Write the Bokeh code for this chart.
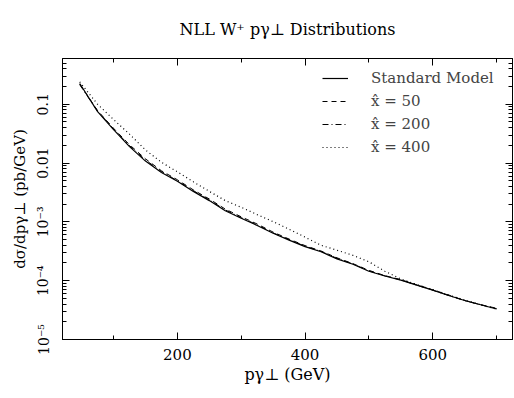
from bokeh.plotting import figure
from bokeh.models import (Range1d, LinearAxis, LogAxis, FixedTicker, LogTicker,
                          Legend, LegendItem, CustomJSTickFormatter)
from bokeh.embed import file_html
from bokeh.resources import INLINE

# ---------------- data ----------------
pt = [47, 75, 100, 125, 150, 175, 200, 225, 250, 275, 300, 325, 350, 375, 400,
      425, 450, 475, 500, 525, 550, 575, 600, 625, 650, 675, 700]

sm = [0.225, 0.075, 0.037, 0.019, 0.0108, 0.0069, 0.0049, 0.0033, 0.0023, 0.00155,
      0.00115, 8.7e-4, 6.4e-4, 4.9e-4, 3.8e-4, 3.1e-4, 2.35e-4, 1.9e-4, 1.45e-4,
      1.2e-4, 1.02e-4, 8.4e-5, 6.9e-5, 5.6e-5, 4.6e-5, 3.9e-5, 3.3e-5]

xh50 = [0.22, 0.078, 0.039, 0.0205, 0.0118, 0.0074, 0.0052, 0.0035, 0.00245, 0.00165,
        0.00122, 9.2e-4, 6.7e-4, 5.1e-4, 3.95e-4, 3.2e-4, 2.45e-4, 1.95e-4, 1.5e-4,
        1.22e-4, 1.04e-4, 8.5e-5, 7.0e-5, 5.7e-5, 4.6e-5, 3.9e-5, 3.4e-5]

xh200 = [0.215, 0.076, 0.038, 0.0198, 0.0113, 0.0072, 0.0050, 0.0034, 0.00236, 0.0016,
         0.00118, 8.9e-4, 6.5e-4, 5.0e-4, 3.85e-4, 3.15e-4, 2.4e-4, 1.93e-4, 1.47e-4,
         1.21e-4, 1.03e-4, 8.4e-5, 6.9e-5, 5.6e-5, 4.6e-5, 3.9e-5, 3.35e-5]

xh400 = [0.24, 0.1, 0.055, 0.031, 0.0167, 0.0103, 0.0071, 0.0048, 0.0033, 0.0023,
         0.00177, 0.00133, 0.00101, 7.5e-4, 5.5e-4, 4.0e-4, 3.3e-4, 2.7e-4, 2.1e-4,
         1.45e-4, 1.07e-4, 8.6e-5, 7.0e-5, 5.7e-5, 4.7e-5, 3.9e-5, 3.3e-5]

series_labels = ["Standard Model", "x\u0302 = 50", "x\u0302 = 200", "x\u0302 = 400"]

title_text = "NLL W\u207a p\u03b3\u22a5 Distributions"
x_label = "p\u03b3\u22a5 (GeV)"
y_label = "d\u03c3/dp\u03b3\u22a5 (pb/GeV)"

x_major_ticks = [200, 400, 600]
x_minor_ticks = [100, 300, 500, 700]
y_tick_values = [1e-5, 1e-4, 1e-3, 1e-2, 1e-1]
y_tick_labels = ["10\u207b\u2075", "10\u207b\u2074", "10\u207b\u00b3", "0.01", "0.1"]

FONT = "DejaVu Serif"

# ---------------- figure ----------------
p = figure(width=514, height=398, x_range=Range1d(20, 725), y_range=Range1d(1e-5, 0.6),
           y_axis_type="log", output_backend="svg", toolbar_location=None,
           min_border_left=62, min_border_right=2, min_border_top=58, min_border_bottom=59,
           background_fill_color="white", border_fill_color="white")
p.grid.visible = False
p.outline_line_color = "black"
p.outline_line_width = 1

p.title.text = title_text
p.title.align = "center"
p.title.vertical_align = "top"
p.title.text_font = FONT
p.title.text_font_size = "16px"
p.title.text_font_style = "normal"
p.title.text_color = "black"
p.title.standoff = 35

blank = CustomJSTickFormatter(code='return "";')


def style_axis(ax, show_labels):
    ax.major_tick_in = 7
    ax.major_tick_out = 0
    ax.minor_tick_in = 4
    ax.minor_tick_out = 0
    ax.axis_line_color = "black"
    ax.major_tick_line_color = "black"
    ax.minor_tick_line_color = "black"
    ax.major_label_text_font = FONT
    ax.major_label_text_color = "black"
    ax.axis_label_text_font = FONT
    ax.axis_label_text_font_style = "normal"
    ax.axis_label_text_color = "black"
    if not show_labels:
        ax.formatter = blank
        ax.major_label_standoff = 0


xt = FixedTicker(ticks=x_major_ticks, minor_ticks=x_minor_ticks)
yfmt = CustomJSTickFormatter(args=dict(vals=y_tick_values, labs=y_tick_labels), code="""
for (let i = 0; i < vals.length; i++) {
  if (Math.abs(Math.log10(tick) - Math.log10(vals[i])) < 1e-6) return labs[i];
}
return "";
""")

xb = p.xaxis[0]
xb.ticker = xt
style_axis(xb, True)
xb.major_label_text_font_size = "15px"
xb.major_label_standoff = 9
xb.axis_label = x_label
xb.axis_label_text_font_size = "16px"
xb.axis_label_standoff = 2

yl = p.yaxis[0]
yl.ticker = LogTicker(num_minor_ticks=10)
yl.formatter = yfmt
style_axis(yl, True)
yl.major_label_text_font_size = "14px"
yl.major_label_orientation = "vertical"
yl.major_label_standoff = 11
yl.axis_label = y_label
yl.axis_label_text_font_size = "15px"
yl.axis_label_standoff = 4

xa = LinearAxis(ticker=xt)
style_axis(xa, False)
p.add_layout(xa, "above")

yr = LogAxis(ticker=LogTicker(num_minor_ticks=10))
style_axis(yr, False)
p.add_layout(yr, "right")

# ---------------- curves ----------------
r_sm = p.line(pt, sm, line_color="black", line_width=1.2)
r50 = p.line(pt, xh50, line_color="black", line_width=1, line_dash="5 4")
r200 = p.line(pt, xh200, line_color="black", line_width=1, line_dash="6 3 1 3")
r400 = p.line(pt, xh400, line_color="black", line_width=1.2, line_dash="1 3")

legend = Legend(items=[LegendItem(label=series_labels[0], renderers=[r_sm]),
                       LegendItem(label=series_labels[1], renderers=[r50]),
                       LegendItem(label=series_labels[2], renderers=[r200]),
                       LegendItem(label=series_labels[3], renderers=[r400])],
                location=(260, 182), glyph_width=26, glyph_height=20, label_height=20,
                spacing=3, padding=0, margin=0, border_line_color=None,
                background_fill_alpha=0, label_standoff=23,
                label_text_font=FONT, label_text_font_size="15px")
p.add_layout(legend)

open("out.html", "w").write(file_html(p, INLINE))
